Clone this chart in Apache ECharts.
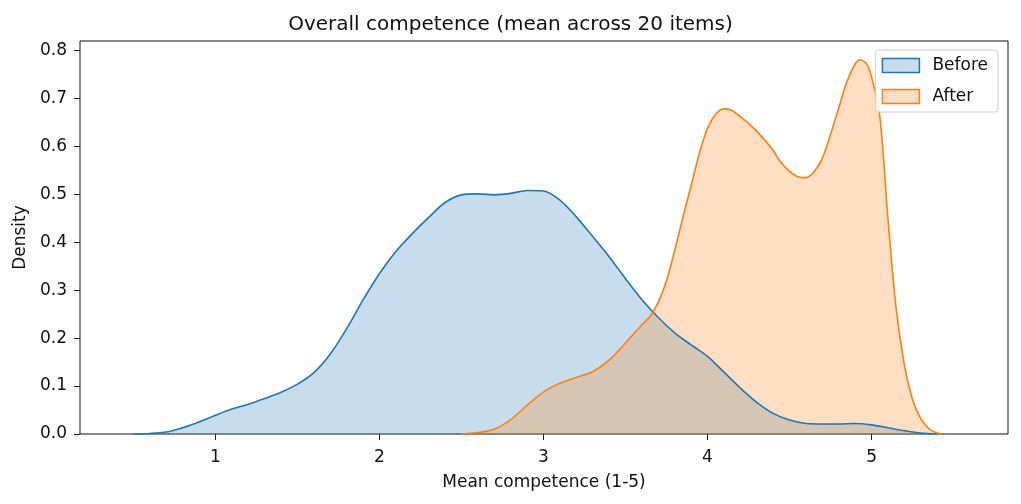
<!DOCTYPE html>
<html lang="en">

<head>
  <meta charset="utf-8">
  <title>Overall competence</title>
  <style>
    html, body {
      margin: 0;
      padding: 0;
      background-color: white;
    }

    .box {
      width: 1021px;
      height: 504px;
    }
  </style>
</head>

<body>
  <script type="text/javascript" src="https://cdn.jsdelivr.net/npm/echarts@6/dist/echarts.min.js"></script>

  <div class="box"></div>

  <script>
    // KDE curves: x = mean competence, y = density
    var beforeX = [0.50, 0.60, 0.70, 0.80, 0.90, 1.00, 1.10, 1.20, 1.30, 1.40,
      1.50, 1.60, 1.70, 1.80, 1.90, 2.00, 2.10, 2.20, 2.30, 2.40,
      2.50, 2.60, 2.70, 2.80, 2.90, 3.00, 3.10, 3.20, 3.30, 3.40,
      3.50, 3.60, 3.70, 3.80, 3.90, 4.00, 4.10, 4.20, 4.30, 4.40,
      4.50, 4.60, 4.70, 4.80, 4.90, 5.00, 5.10, 5.20, 5.30, 5.40];
    var beforeY = [0.000, 0.001, 0.004, 0.013, 0.025, 0.039, 0.052, 0.062, 0.074, 0.087,
      0.104, 0.128, 0.167, 0.220, 0.280, 0.335, 0.381, 0.418, 0.452, 0.483,
      0.499, 0.501, 0.499, 0.502, 0.508, 0.507, 0.488, 0.453, 0.412, 0.370,
      0.324, 0.280, 0.243, 0.211, 0.186, 0.162, 0.129, 0.096, 0.066, 0.043,
      0.029, 0.022, 0.021, 0.021, 0.022, 0.019, 0.013, 0.007, 0.002, 0.000];

    var afterX = [2.50, 2.60, 2.70, 2.80, 2.90, 3.00, 3.10, 3.20, 3.30, 3.40,
      3.50, 3.60, 3.65, 3.70, 3.75, 3.80, 3.85, 3.90, 3.95, 4.00,
      4.05, 4.10, 4.15, 4.20, 4.25, 4.30, 4.40, 4.44, 4.50, 4.55,
      4.60, 4.65, 4.70, 4.75, 4.80, 4.85, 4.90, 4.93, 4.97, 5.00,
      5.05, 5.10, 5.15, 5.20, 5.25, 5.30, 5.35, 5.40, 5.43];
    var afterY = [0.000, 0.003, 0.010, 0.030, 0.060, 0.088, 0.106, 0.118, 0.130, 0.154,
      0.190, 0.228, 0.245, 0.275, 0.320, 0.383, 0.452, 0.518, 0.585, 0.638,
      0.667, 0.679, 0.675, 0.662, 0.648, 0.632, 0.592, 0.570, 0.548, 0.537,
      0.535, 0.547, 0.575, 0.625, 0.680, 0.735, 0.772, 0.781, 0.772, 0.745,
      0.665, 0.450, 0.262, 0.145, 0.072, 0.032, 0.011, 0.002, 0.000];

    var xTicks = [1, 2, 3, 4, 5];
    var yTicks = [0, 0.1, 0.2, 0.3, 0.4, 0.5, 0.6, 0.7, 0.8];

    function pairs(xs, ys) {
      var out = [];
      for (var i = 0; i < xs.length; i++) {
        out.push([xs[i], ys[i]]);
      }
      return out;
    }

    var font = 'DejaVu Sans';
    var myChart = echarts.init(document.querySelector('.box'));

    var option = {
      animation: false,
      title: {
        text: 'Overall competence (mean across 20 items)',
        left: 'center',
        top: 10,
        textStyle: { fontFamily: font, fontSize: 20, fontWeight: 'normal', color: '#111' }
      },
      legend: {
        orient: 'vertical',
        right: 23,
        top: 50,
        icon: 'rect',
        itemWidth: 37,
        itemHeight: 14,
        itemGap: 14,
        padding: [7, 10, 7, 6],
        backgroundColor: 'rgba(255,255,255,0.8)',
        borderColor: '#d0d0d0',
        borderWidth: 1,
        borderRadius: 3,
        textStyle: { fontFamily: font, fontSize: 17, color: '#111', padding: [0, 0, 0, 8] },
        data: [
          { name: 'Before', itemStyle: { color: 'rgba(31,119,180,0.25)', borderColor: '#1f77b4', borderWidth: 1.5 } },
          { name: 'After', itemStyle: { color: 'rgba(255,127,14,0.25)', borderColor: '#ff7f0e', borderWidth: 1.5 } }
        ]
      },
      grid: {
        left: 80,
        right: 13,
        top: 41,
        bottom: 70,
        show: true,
        borderColor: '#111',
        borderWidth: 1,
        backgroundColor: 'transparent'
      },
      xAxis: {
        type: 'value',
        min: 0.174,
        max: 5.832,
        name: 'Mean competence (1-5)',
        nameLocation: 'middle',
        nameGap: 40,
        nameTextStyle: { fontFamily: font, fontSize: 17, color: '#111' },
        axisLine: { show: false },
        axisTick: { show: true, customValues: xTicks, length: 6, lineStyle: { color: '#222' } },
        axisLabel: { customValues: xTicks, fontFamily: font, fontSize: 17, color: '#111', margin: 15 },
        splitLine: { show: false }
      },
      yAxis: {
        type: 'value',
        min: 0,
        max: 0.82,
        name: 'Density',
        nameLocation: 'middle',
        nameGap: 49,
        nameTextStyle: { fontFamily: font, fontSize: 17, color: '#111' },
        axisLine: { show: false },
        axisTick: { show: true, customValues: yTicks, length: 6, lineStyle: { color: '#222' } },
        axisLabel: {
          customValues: yTicks, fontFamily: font, fontSize: 17, color: '#111', margin: 13,
          formatter: function (v) { return v.toFixed(1); }
        },
        splitLine: { show: false }
      },
      series: [
        {
          name: 'Before',
          type: 'line',
          data: pairs(beforeX, beforeY),
          smooth: 0.3,
          showSymbol: false,
          color: '#1f77b4',
          lineStyle: { color: '#1f77b4', width: 1.6 },
          areaStyle: { color: '#1f77b4', opacity: 0.25, origin: 'start' }
        },
        {
          name: 'After',
          type: 'line',
          data: pairs(afterX, afterY),
          smooth: 0.3,
          showSymbol: false,
          color: '#ff7f0e',
          lineStyle: { color: '#ff7f0e', width: 1.6 },
          areaStyle: { color: '#ff7f0e', opacity: 0.25, origin: 'start' }
        }
      ]
    };
    myChart.setOption(option);
  </script>

</body>

</html>
